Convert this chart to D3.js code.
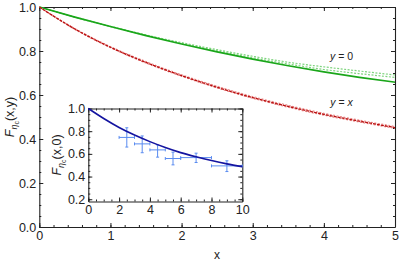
<!DOCTYPE html>
<html>
<head>
<meta charset="utf-8">
<script src="https://cdn.jsdelivr.net/npm/d3@7"></script>
<style>
  body { margin: 0; background: #fff; }
  svg { font-family: "Liberation Sans", Arial, sans-serif; }
  .tick text { font-size: 12.5px; fill: #222; }
</style>
</head>
<body>
<div id="chart"></div>
<script>
// main panel data
var xs = [0, 0.5, 1, 1.5, 2, 2.5, 3, 3.5, 4, 4.5, 5];
var green = [1, 0.954, 0.911, 0.870, 0.832, 0.796, 0.763, 0.733, 0.705, 0.680, 0.658];
var greenUp = [1, 0.954, 0.912, 0.873, 0.838, 0.806, 0.776, 0.749, 0.728, 0.709, 0.691];
var greenLo = [1, 0.954, 0.911, 0.871, 0.835, 0.801, 0.769, 0.741, 0.716, 0.697, 0.680];
var red = [1, 0.900, 0.817, 0.748, 0.688, 0.635, 0.588, 0.548, 0.512, 0.481, 0.452];
var redUp = [1, 0.902, 0.820, 0.752, 0.692, 0.640, 0.593, 0.553, 0.517, 0.486, 0.457];
var redLo = [1, 0.898, 0.815, 0.745, 0.685, 0.632, 0.585, 0.544, 0.508, 0.477, 0.448];
var xTicks = [0, 1, 2, 3, 4, 5];
var yTicks = [0, 0.2, 0.4, 0.6, 0.8, 1.0];

// inset data
var insetX = [0, 1, 2, 3, 4, 5, 6, 7, 8, 9, 10];
var insetCurve = [1, 0.912, 0.833, 0.766, 0.708, 0.656, 0.611, 0.574, 0.541, 0.512, 0.487];
var ptX = [2.5, 3.5, 4.5, 5.5, 7, 9];
var ptXlo = [2, 3, 4, 5, 6, 8];
var ptXhi = [3, 4, 5, 6, 8, 10];
var ptY = [0.745, 0.688, 0.635, 0.559, 0.567, 0.494];
var ptYlo = [0.66, 0.61, 0.571, 0.503, 0.524, 0.444];
var ptYhi = [0.83, 0.758, 0.679, 0.615, 0.606, 0.539];
var insetXTicks = [0, 2, 4, 6, 8, 10];
var insetYTicks = [0.2, 0.4, 0.6, 0.8, 1.0];

var width = 399, height = 264;

var svg = d3.select("#chart")
  .append("svg")
  .attr("width", width)
  .attr("height", height);

var xScale = d3.scaleLinear().domain([0, 5]).range([39.3, 395]);
var yScale = d3.scaleLinear().domain([0, 1]).range([227, 7]);

// frame with inward ticks on all sides
function frame(g, x, y, xMaj, xMin, yMaj, yMin, xFmt, yFmt) {
  var x0 = x.range()[0], x1 = x.range()[1];
  var y0 = y.range()[0], y1 = y.range()[1];
  var specs = [
    [d3.axisBottom, x, y0, true, xFmt],
    [d3.axisTop, x, y1, false, xFmt],
    [d3.axisLeft, y, x0, true, yFmt],
    [d3.axisRight, y, x1, false, yFmt]
  ];
  specs.forEach(function(s) {
    var horiz = (s[0] === d3.axisBottom || s[0] === d3.axisTop);
    var tr = horiz ? `translate(0,${s[2]})` : `translate(${s[2]},0)`;
    g.append("g")
      .attr("transform", tr)
      .call(s[0](s[1]).tickValues(horiz ? xMin : yMin).tickSize(-2).tickSizeOuter(0).tickFormat(""))
      .call(a => a.select(".domain").remove())
      .selectAll("line").attr("stroke", "#222");
    var ax = g.append("g")
      .attr("transform", tr)
      .call(s[0](s[1]).tickValues(horiz ? xMaj : yMaj).tickSize(-4).tickSizeOuter(0)
        .tickPadding(horiz ? 4 : 3)
        .tickFormat(s[3] ? s[4] : ""));
    ax.select(".domain").attr("stroke", "#222").attr("stroke-width", 1.1);
    ax.selectAll("line").attr("stroke", "#222");
  });
}

function range(a, b, step) {
  return d3.range(Math.round((b - a) / step) + 1).map(i => +(a + i * step).toFixed(4));
}

frame(svg, xScale, yScale, xTicks, range(0, 5, 0.2), yTicks, range(0, 1, 0.05),
  d3.format("d"), d3.format(".1f"));

var line = d3.line()
  .x((d, i) => xScale(xs[i]))
  .y(d => yScale(d))
  .curve(d3.curveMonotoneX);

// dashed bands behind solid curves
[greenUp, greenLo].forEach(function(s) {
  svg.append("path").attr("d", line(s))
    .attr("fill", "none").attr("stroke", "#7fd47f")
    .attr("stroke-width", 1.2).attr("stroke-dasharray", "2,1.5");
});
svg.append("path").attr("d", line(green))
  .attr("fill", "none").attr("stroke", "#1aa61a").attr("stroke-width", 1.6);

[redUp, redLo].forEach(function(s) {
  svg.append("path").attr("d", line(s))
    .attr("fill", "none").attr("stroke", "#ec8a8a")
    .attr("stroke-width", 1.1).attr("stroke-dasharray", "2,1.5");
});
svg.append("path").attr("d", line(red))
  .attr("fill", "none").attr("stroke", "#b80f0f").attr("stroke-width", 1.3)
  .attr("stroke-dasharray", "3,1");

// curve labels
function curveLabel(px, py, rhs, italicRhs) {
  var t = svg.append("text")
    .attr("x", px).attr("y", py)
    .attr("text-anchor", "middle")
    .style("font-size", "10.5px").style("fill", "#222");
  t.append("tspan").text("y").style("font-style", "italic");
  t.append("tspan").text(" = ");
  t.append("tspan").text(rhs).style("font-style", italicRhs ? "italic" : "normal");
}
curveLabel(341.5, 59.5, "0", false);
curveLabel(341.5, 106, "x", true);

// axis titles
svg.append("text")
  .attr("x", 217).attr("y", 259)
  .attr("text-anchor", "middle")
  .style("font-size", "12px").style("fill", "#222")
  .text("x");

function fLabel(cx, cy, args) {
  var t = svg.append("text")
    .attr("transform", `translate(${cx},${cy}) rotate(-90)`)
    .attr("text-anchor", "middle")
    .style("font-size", "12.5px").style("fill", "#222");
  t.append("tspan").text("F").style("font-style", "italic");
  t.append("tspan").text("η").attr("dy", 3).style("font-size", "9px").style("font-style", "italic");
  t.append("tspan").text("c").attr("dy", 1.5).style("font-size", "7px");
  t.append("tspan").text(args).attr("dy", -4.5);
}
fLabel(14, 117, "(x,y)");

// inset
var xi = d3.scaleLinear().domain([0, 10]).range([88.3, 242.3]);
var yi = d3.scaleLinear().domain([0.18, 1]).range([201.5, 108.5]);

var inset = svg.append("g").attr("class", "inset");
inset.append("rect")
  .attr("x", xi(0)).attr("y", yi(1))
  .attr("width", xi(10) - xi(0)).attr("height", yi(0.18) - yi(1))
  .attr("fill", "#fff");

frame(inset, xi, yi, insetXTicks, range(0, 10, 0.5), insetYTicks, range(0.2, 1, 0.05),
  d3.format("d"), d3.format(".1f"));

var iline = d3.line()
  .x((d, i) => xi(insetX[i]))
  .y(d => yi(d))
  .curve(d3.curveMonotoneX);

var pts = ptX.map((d, i) => ({ x: d, xl: ptXlo[i], xh: ptXhi[i], y: ptY[i], yl: ptYlo[i], yh: ptYhi[i] }));
var eb = inset.selectAll(".pt").data(pts).enter().append("g").attr("class", "pt");
var ptColor = "#5a8cf0";
eb.append("line")
  .attr("x1", d => xi(d.xl)).attr("x2", d => xi(d.xh))
  .attr("y1", d => yi(d.y)).attr("y2", d => yi(d.y))
  .attr("stroke", ptColor).attr("stroke-width", 1);
eb.append("line")
  .attr("x1", d => xi(d.x)).attr("x2", d => xi(d.x))
  .attr("y1", d => yi(d.yl)).attr("y2", d => yi(d.yh))
  .attr("stroke", ptColor).attr("stroke-width", 1);
// caps
eb.each(function(d) {
  var g = d3.select(this);
  [d.yl, d.yh].forEach(v => g.append("line")
    .attr("x1", xi(d.x) - 1.5).attr("x2", xi(d.x) + 1.5)
    .attr("y1", yi(v)).attr("y2", yi(v)).attr("stroke", ptColor));
  [d.xl, d.xh].forEach(v => g.append("line")
    .attr("x1", xi(v)).attr("x2", xi(v))
    .attr("y1", yi(d.y) - 1.5).attr("y2", yi(d.y) + 1.5).attr("stroke", ptColor));
});

inset.append("path").attr("d", iline(insetCurve))
  .attr("fill", "none").attr("stroke", "#1414a0").attr("stroke-width", 1.6);

fLabel(61, 155, "(x,0)");
</script>
</body>
</html>
